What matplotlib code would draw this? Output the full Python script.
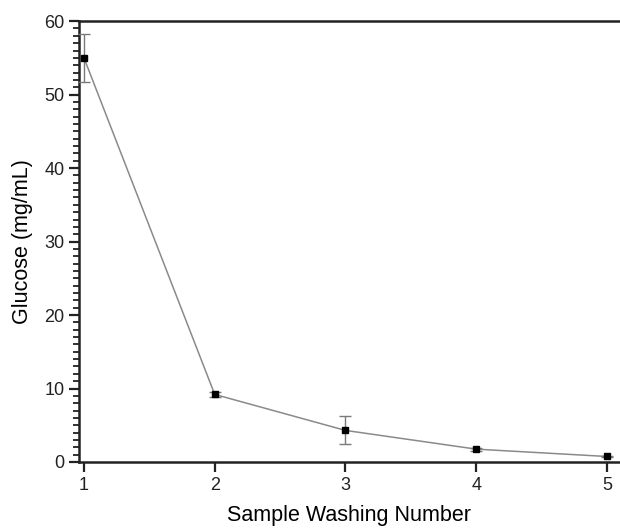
import numpy as np
import matplotlib.pyplot as plt
from matplotlib.ticker import MultipleLocator

plt.rcParams['font.family'] = ['Liberation Sans', 'DejaVu Sans']

washing = [1, 2, 3, 4, 5]
glucose = [55.0, 9.2, 4.3, 1.75, 0.75]
glucose_err = [3.3, 0.35, 1.9, 0.2, 0.1]

fig = plt.figure(figsize=(6.2, 5.28), dpi=100)
ax = fig.add_axes([0.1274, 0.125, 0.8726, 0.835])

ax.plot(washing, glucose, color='#8a8a8a', lw=1.1, zorder=2)
ax.errorbar(washing, glucose, yerr=glucose_err, fmt='none', ecolor='#7a7a7a',
            elinewidth=1.0, capsize=4, capthick=1.0, zorder=3)
ax.plot(washing, glucose, ls='none', marker='s', ms=5, color='black', zorder=4)

ax.set_xlim(0.962, 5.1)
ax.set_ylim(0, 60)
ax.xaxis.set_major_locator(MultipleLocator(1))
ax.yaxis.set_major_locator(MultipleLocator(10))
ax.yaxis.set_minor_locator(MultipleLocator(1))

ax.spines['right'].set_visible(False)
for s in ['left', 'bottom', 'top']:
    ax.spines[s].set_linewidth(1.8)
    ax.spines[s].set_color('#222222')

ax.tick_params(axis='both', which='major', direction='out', length=7, width=1.6,
               labelsize=13, colors='#222222')
ax.tick_params(axis='y', which='minor', direction='out', length=4, width=1.3,
               colors='#222222')
ax.tick_params(axis='x', which='minor', bottom=False)

ax.set_xlabel('Sample Washing Number', fontsize=15.5, labelpad=8)
ax.set_ylabel('Glucose (mg/mL)', fontsize=15.5, labelpad=8)

fig.savefig('out.png', dpi=100)
